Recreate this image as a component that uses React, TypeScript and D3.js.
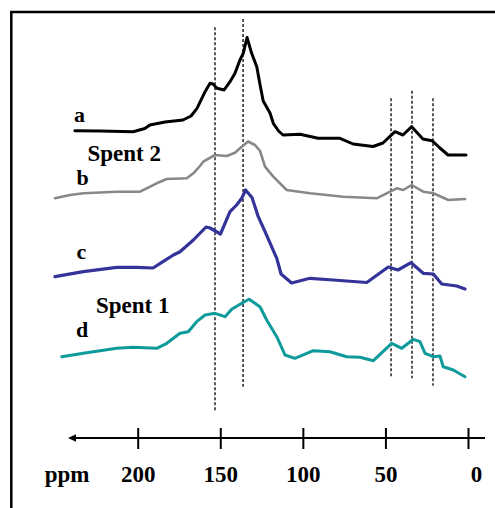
import React from "react"
import * as d3 from "d3"

// 13C NMR spectra, chemical shift in ppm vs intensity (a.u.)
const spectrumA: [number, number][] = [
  [238.3, 27.3], [223.1, 27], [203.1, 26.3], [196.0, 29.5], [192.9, 33], [183.8, 36], [172.9, 38],
  [168.0, 42], [164.4, 49.7], [159.5, 66.3], [156.5, 74.7], [154.7, 74], [152.3, 69.7], [148.0, 68],
  [144.4, 76.3], [141.4, 84.7], [138.4, 98], [136.4, 104.7], [134.1, 120.5], [131.3, 104.7],
  [128.2, 91.3], [126.2, 73], [124.3, 57], [120.2, 45], [118.2, 34.7], [115.0, 27], [112.3, 23],
  [102.0, 23.7], [91.1, 19.7], [77.8, 19.7], [69.9, 14], [57.8, 11.5], [51.8, 15],
  [44.5, 26.3], [39.7, 23], [34.4, 31.3], [27.6, 19], [22.1, 17.3], [17.3, 10],
  [12.4, 3], [1.5, 3],
]

const spectrumB: [number, number][] = [
  [250.4, 4.7], [241.3, 8], [233.2, 9.7], [213.0, 11.3], [198.9, 11.3], [188.8, 19.7],
  [182.7, 24], [170.6, 24.7], [166.6, 29.7], [162.6, 37], [160.6, 41.3], [153.5, 48],
  [146.4, 47], [141.4, 50.3], [137.3, 56.3], [133.5, 61.5], [129.3, 58], [126.2, 52],
  [123.2, 36.3], [118.2, 26.3], [110.1, 13], [96.0, 9.7], [75.8, 6.3], [55.6, 4.7],
  [47.5, 11.3], [43.5, 14.7], [39.5, 13], [34.4, 18], [27.4, 11.3], [21.3, 9.7],
  [12.2, 3], [2.1, 4],
]

const spectrumC: [number, number][] = [
  [250.4, 16.3], [233.2, 21.3], [213.0, 25.7], [200.9, 25.7], [191.0, 25], [185.0, 31.3],
  [178.7, 38], [174.7, 41.3], [166.6, 53], [158.9, 66], [156.5, 65], [150.2, 59],
  [144.4, 81.3], [140.4, 88], [137.3, 94.7], [135.0, 103], [131.1, 95.5], [127.3, 76.3],
  [123.2, 61.3], [116.1, 34.7], [113.5, 19], [107.1, 10], [96.0, 14.7], [81.9, 13],
  [61.6, 10.5], [48.6, 26], [42.7, 23], [34.8, 30.3], [27.4, 19.7], [21.3, 19],
  [16.2, 9], [7.1, 7], [2.1, 4],
]

const spectrumD: [number, number][] = [
  [246.3, 21.3], [233.2, 24.7], [213.0, 29.7], [203.0, 30.7], [188.8, 29.7], [182.7, 34.7],
  [174.7, 44.7], [169.7, 46.3], [164.6, 56.3], [159.5, 63], [153.5, 64.7], [147.4, 61.3],
  [143.4, 68.7], [137.3, 74.7], [132.9, 78.7], [129.3, 74.7], [126.2, 71], [122.2, 58],
  [116.1, 41.3], [111.1, 23], [105.1, 19.7], [94.0, 27.3], [83.9, 26.3], [73.8, 21.3],
  [65.7, 20.7], [57.6, 17.3], [46.5, 34.7], [40.4, 29.7], [33.4, 38.7], [29.4, 36.3],
  [26.3, 24.7], [21.3, 21.3], [17.3, 22], [15.3, 11.3], [9.2, 8], [2.1, 1.3],
]

// vertical offsets of the stacked spectra
const offsets = [280, 235, 145, 60]
const traceLabels = ["a", "b", "c", "d"]
const traceColors = ["#000000", "#888888", "#333399", "#0e9a9a"]
const traceWidths = [3, 2.6, 3.2, 3]

// dashed reference lines (ppm, top and bottom in a.u.)
const refPpm = [153.5, 136.5, 46.9, 34.2, 21.5]
const refTop = [410.7, 419, 339.7, 347.3, 339.7]
const refBottom = [27.3, 51.3, 59.7, 59.7, 52.3]

const tickValues = [200, 150, 100, 50, 0]

export default function App() {
  const width = 495
  const height = 508

  const x = d3.scaleLinear().domain([0, 200]).range([468.5, 138.2])
  const y = d3.scaleLinear().domain([0, 430]).range([438, 8])

  const spectra = [spectrumA, spectrumB, spectrumC, spectrumD]
  const axisY = y(0)

  const font = "'Liberation Serif', 'Times New Roman', serif"

  return (
    <svg
      width={width}
      height={height}
      style={{ position: "absolute", left: 0, top: 0, background: "#fff" }}
    >
      {/* frame */}
      <path d={`M11.3,${height} V12 H${width}`} fill="none" stroke="#000" strokeWidth={2.5} />

      {/* dashed reference lines */}
      {refPpm.map((p, i) => (
        <line
          key={"ref" + i}
          x1={x(p)}
          x2={x(p)}
          y1={y(refTop[i])}
          y2={y(refBottom[i])}
          stroke="#000"
          strokeWidth={1.3}
          strokeDasharray="3,2"
        />
      ))}

      {/* spectra */}
      {spectra.map((s, i) => {
        const line = d3
          .line<[number, number]>()
          .x((d) => x(d[0]))
          .y((d) => y(d[1] + offsets[i]))
        return (
          <path
            key={"sp" + i}
            d={line(s) || ""}
            fill="none"
            stroke={traceColors[i]}
            strokeWidth={traceWidths[i]}
            strokeLinejoin="round"
            strokeLinecap="round"
          />
        )
      })}

      {/* trace labels */}
      <g fontFamily={font} fontWeight="bold" fontSize={22}>
        <text x={74} y={121.5}>{traceLabels[0]}</text>
        <text x={76.5} y={185}>{traceLabels[1]}</text>
        <text x={76.5} y={258.5}>{traceLabels[2]}</text>
        <text x={76} y={336.5}>{traceLabels[3]}</text>
      </g>
      <g fontFamily={font} fontWeight="bold" fontSize={23}>
        <text x={87.5} y={160.5}>Spent 2</text>
        <text x={96} y={312.5}>Spent 1</text>
      </g>

      {/* ppm axis with arrow */}
      <line x1={x(-10)} x2={x(238)} y1={axisY} y2={axisY} stroke="#000" strokeWidth={2} />
      <path d={`M${x(242.5)},${axisY} l8,-3.8 v7.6 z`} fill="#000" />
      {tickValues.map((t) => (
        <line
          key={"tk" + t}
          x1={x(t)}
          x2={x(t)}
          y1={axisY - 10}
          y2={axisY + 11}
          stroke="#000"
          strokeWidth={2}
        />
      ))}
      <g fontFamily={font} fontWeight="bold" fontSize={23} textAnchor="middle">
        {tickValues.map((t) => (
          <text key={"tl" + t} x={x(t) + (t === 0 ? 8 : 0)} y={481.5}>
            {t}
          </text>
        ))}
        <text x={67} y={481.5}>ppm</text>
      </g>
    </svg>
  )
}
